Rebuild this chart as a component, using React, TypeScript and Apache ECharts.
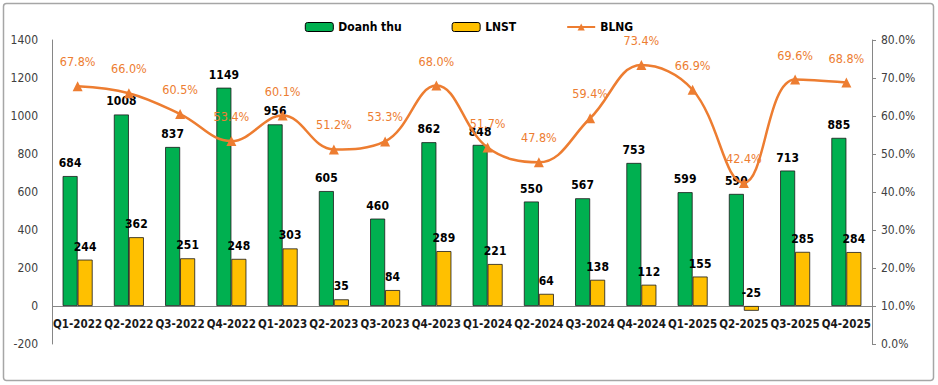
import React, { useEffect, useRef } from "react";
import * as echarts from "echarts";

const categories = [
  "Q1-2022", "Q2-2022", "Q3-2022", "Q4-2022",
  "Q1-2023", "Q2-2023", "Q3-2023", "Q4-2023",
  "Q1-2024", "Q2-2024", "Q3-2024", "Q4-2024",
  "Q1-2025", "Q2-2025", "Q3-2025", "Q4-2025",
];
const doanhThu = [684, 1008, 837, 1149, 956, 605, 460, 862, 848, 550, 567, 753, 599, 590, 713, 885];
const lnst = [244, 362, 251, 248, 303, 35, 84, 289, 221, 64, 138, 112, 155, -25, 285, 284];
const blng = [67.8, 66.0, 60.5, 53.4, 60.1, 51.2, 53.3, 68.0, 51.7, 47.8, 59.4, 73.4, 66.9, 42.4, 69.6, 68.8];

const FONT = "'DejaVu Sans Condensed', 'DejaVu Sans', sans-serif";

export default function App() {
  const ref = useRef<HTMLDivElement>(null);
  useEffect(() => {
    document.body.style.margin = "0";
    const chart = echarts.init(ref.current!, undefined, { renderer: "svg" });
    chart.setOption({
      animation: false,
      backgroundColor: "#ffffff",
      textStyle: { fontFamily: FONT },
      graphic: [
        {
          type: "rect",
          shape: { x: 3.5, y: 3.5, width: 930, height: 377, r: 3 },
          style: { fill: "none", stroke: "#A6A6A6", lineWidth: 1.5 },
          silent: true,
          z: -10,
        },
      ],
      legend: {
        top: 16,
        left: "center",
        itemGap: 50,
        itemWidth: 28,
        itemHeight: 9,
        textStyle: { fontFamily: FONT, fontSize: 12, fontWeight: "bold", color: "#000" },
        data: [
          { name: "Doanh thu", itemStyle: { borderColor: "#000", borderWidth: 1 } },
          { name: "LNST", itemStyle: { borderColor: "#000", borderWidth: 1 } },
          { name: "BLNG" },
        ],
      },
      grid: { left: 52, right: 66, top: 40, bottom: 41, containLabel: false },
      xAxis: {
        type: "category",
        data: categories,
        boundaryGap: true,
        axisLine: { show: false },
        axisTick: { show: false },
        axisLabel: {
          interval: 0,
          margin: -26,
          fontFamily: FONT,
          fontSize: 11.5,
          fontWeight: "bold",
          color: "#1a1a1a",
        },
      },
      yAxis: [
        {
          type: "value",
          min: -200,
          max: 1400,
          interval: 200,
          axisLine: { show: true, lineStyle: { color: "#868686" } },
          axisTick: { show: false },
          splitLine: { show: false },
          axisLabel: {
            fontFamily: FONT,
            fontSize: 12,
            color: "#404040",
            margin: 14,
            formatter: (v: number) => String(v),
          },
        },
        {
          type: "value",
          min: 0,
          max: 80,
          interval: 10,
          position: "right",
          axisLine: { show: true, onZero: false, lineStyle: { color: "#868686" } },
          axisTick: { show: true, length: 4, lineStyle: { color: "#868686" } },
          splitLine: { show: false },
          axisLabel: {
            fontFamily: FONT,
            fontSize: 12,
            color: "#404040",
            margin: 9,
            formatter: (v: number) => v.toFixed(1) + "%",
          },
        },
      ],
      series: [
        {
          name: "Doanh thu",
          type: "bar",
          data: doanhThu,
          barWidth: 15,
          barGap: "0%",
          itemStyle: { color: "#00B050", borderColor: "#1a1a1a", borderWidth: 0.8 },
          label: {
            show: true,
            position: "top",
            distance: 7,
            fontFamily: FONT,
            fontSize: 12,
            fontWeight: "bold",
            color: "#000",
          },
          markLine: {
            silent: true,
            symbol: "none",
            label: { show: false },
            lineStyle: { color: "#868686", width: 1, type: "solid" },
            data: [{ yAxis: 0 }],
            z: 1,
          },
        },
        {
          name: "LNST",
          type: "bar",
          data: lnst,
          barWidth: 15,
          barGap: "0%",
          itemStyle: { color: "#FFC000", borderColor: "#1a1a1a", borderWidth: 0.8 },
          label: {
            show: true,
            position: "top",
            distance: 7,
            fontFamily: FONT,
            fontSize: 12,
            fontWeight: "bold",
            color: "#000",
          },
        },
        {
          name: "BLNG",
          type: "line",
          yAxisIndex: 1,
          data: blng,
          smooth: 0.4,
          symbol: "triangle",
          symbolSize: 10,
          lineStyle: { color: "#ED7D31", width: 2.5 },
          itemStyle: { color: "#ED7D31" },
          label: {
            show: true,
            position: "top",
            distance: 13,
            fontFamily: FONT,
            fontSize: 12.5,
            color: "#ED7D31",
            formatter: (p: any) => Number(p.value).toFixed(1) + "%",
          },
          z: 5,
        },
      ],
    });
    return () => chart.dispose();
  }, []);
  return <div ref={ref} style={{ width: 938, height: 385 }} />;
}
